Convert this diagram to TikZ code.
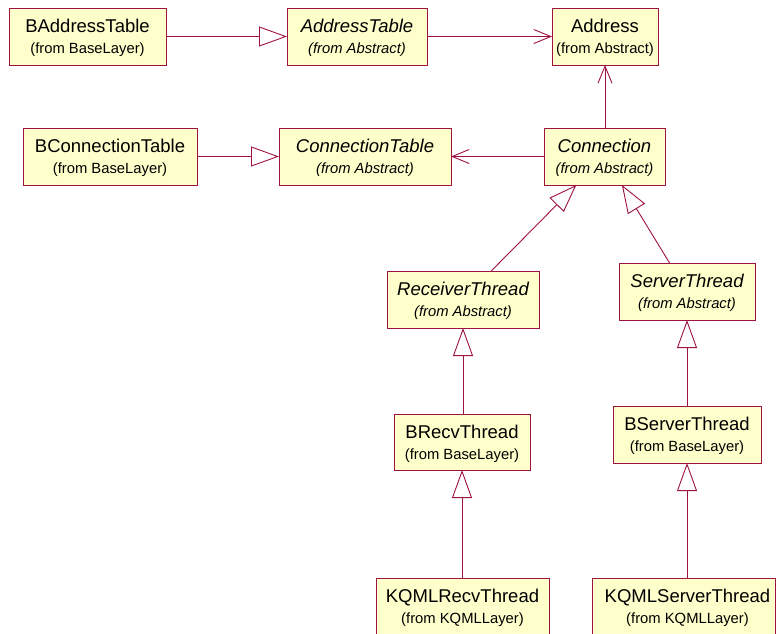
\documentclass[tikz,border=0pt]{standalone}
\usepackage{fontspec}
\setmainfont{Liberation Sans}
\usetikzlibrary{arrows.meta,calc}

\definecolor{umlline}{RGB}{158,18,66}
\definecolor{umlfill}{RGB}{255,255,204}

\tikzset{
  cbox/.style={draw=umlline, fill=umlfill, line width=1.0pt, inner sep=0pt, outer sep=0pt, rectangle},
  ttl/.style={anchor=base, inner sep=0pt, font=\fontsize{18.5}{20}\selectfont},
  sub/.style={anchor=base, inner sep=0pt, font=\fontsize{14.8}{16}\selectfont},
  conn/.style={draw=umlline, line width=0.9pt},
  gen/.style={conn, -{Triangle[open, length=28pt, width=20pt, fill=white]}},
  assoc/.style={conn, -{Straight Barb[length=17pt, width=14pt]}},
}

% class box: name, x1, y1, x2, y2, title, package line, horizontal text offset
\newcommand\umlclass[8]{%
  \node[cbox, minimum width={(#4)-(#2)}, minimum height={(#5)-(#3)}] (#1)
    at ({((#2)+(#4))/2},{((#3)+(#5))/2}) {};
  \node[ttl] (#1-t) at ($(#1.north)+(#8,24)$) {#6};
  \node[sub] (#1-s) at ($(#1.north)+(#8,45)$) {#7};
}

\begin{document}
\begin{tikzpicture}[x=1pt, y=-1pt]
\useasboundingbox (0,0) rectangle (776,633);

\umlclass{ba}{9}{8}{166}{65}{BAddressTable}{(from BaseLayer)}{0}
\umlclass{at}{287}{8}{427}{65}{\itshape AddressTable}{\itshape (from Abstract)}{0}
\umlclass{ad}{552}{8}{658}{65}{Address}{(from Abstract)}{0}

\umlclass{bc}{23}{128}{197}{185}{BConnectionTable}{(from BaseLayer)}{0}
\umlclass{ct}{279}{128}{451}{185}{\itshape ConnectionTable}{\itshape (from Abstract)}{0}
\umlclass{cn}{544}{128}{665}{185}{\itshape Connection}{\itshape (from Abstract)}{0}

\umlclass{rt}{387}{271}{539}{328}{\itshape ReceiverThread}{\itshape (from Abstract)}{0}
\umlclass{st}{619}{263}{755}{320}{\itshape ServerThread}{\itshape (from Abstract)}{0}

\umlclass{br}{394}{414}{530}{470}{BRecvThread}{(from BaseLayer)}{0}
\umlclass{bs}{613}{406}{761}{463}{BServerThread}{(from BaseLayer)}{0}

\umlclass{kr}{376}{578}{549}{636}{KQMLRecvThread}{(from KQMLLayer)}{0}
\umlclass{ks}{592}{578}{775}{636}{KQMLServerThread}{(from KQMLLayer)}{4}

% inheritance
\draw[gen] (ba.east) -- (at.west);
\draw[gen] (bc.east) -- (ct.west);
\draw[gen] (rt) -- (cn);
\draw[gen] (st) -- (cn);
\draw[gen] (br.north -| rt.south) -- (rt.south);
\draw[gen] (kr.north -| br.south) -- (br.south);
\draw[gen] (bs.north -| st.south) -- (st.south);
\draw[gen] (ks.north -| bs.south) -- (bs.south);

% navigable associations
\draw[assoc] (at.east) -- (ad.west);
\draw[assoc] (cn.west) -- (ct.east);
\draw[assoc] (cn.north -| ad.south) -- (ad.south);
\end{tikzpicture}
\end{document}
